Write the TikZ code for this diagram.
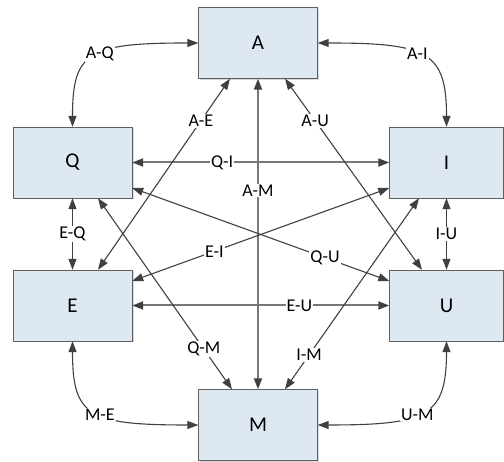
\documentclass[tikz,border=0pt]{standalone}
\usepackage{fontspec}
\setmainfont{Carlito}
\usetikzlibrary{arrows.meta,shadows}
\definecolor{boxfill}{RGB}{222,232,242}
\definecolor{boxline}{RGB}{95,95,95}
\definecolor{conn}{RGB}{64,64,64}
\definecolor{connlight}{RGB}{120,120,120}

\begin{document}
\begin{tikzpicture}[x=1pt,y=1pt,
    state/.style={draw=boxline,fill=boxfill,minimum width=119pt,minimum height=71pt,
      font=\fontsize{21}{24}\selectfont,
      drop shadow={shadow xshift=1.5pt,shadow yshift=-1.5pt,opacity=0.3}},
    link/.style={{Triangle[length=11pt,width=8pt,color=conn]}-{Triangle[length=11pt,width=8pt,color=conn]},
      draw=conn,line width=1.1pt},
    heavy/.style={link,draw=connlight,line width=2pt},
    lbl/.style={fill=white,inner sep=1pt,font=\fontsize{18}{20}\selectfont}]
    \useasboundingbox (0,0) rectangle (504,462);
    %Boxes
    \node [state] (A) at (258,419) {A};
    \node [state] (Q) at (72.5,299.5) {Q};
    \node [state,minimum width=114pt] (I) at (446.5,299.5) {I};
    \node [state] (E) at (72.5,156.5) {E};
    \node [state,minimum width=114pt] (U) at (446.5,156.5) {U};
    \node [state] (M) at (258,37) {M};

    %Outer curves
    \draw [link] (A.west) to[out=180,in=90,out distance=110pt,in distance=75pt]
      node[lbl,pos=0.45]{A-Q} (Q.north);
    \draw [link] (A.east) to[out=0,in=90,out distance=110pt,in distance=75pt]
      node[lbl,pos=0.45]{A-I} (I.north);
    \draw [link] (E.south) to[out=-90,in=180,out distance=75pt,in distance=110pt]
      node[lbl,pos=0.55]{M-E} (M.west);
    \draw [link] (U.south) to[out=-90,in=0,out distance=75pt,in distance=110pt]
      node[lbl,pos=0.55]{U-M} (M.east);

    %Straight ones
    \draw [link] (Q.south) -- node[lbl]{E-Q} (E.north);
    \draw [link] (I.south) -- node[lbl]{I-U} (U.north);
    \draw [heavy] (A.south) -- node[lbl,pos=0.36]{A-M} (M.north);
    \draw [heavy] (Q.east) -- node[lbl,pos=0.35]{Q-I} (I.west);
    \draw [heavy] (E.east) -- node[lbl,pos=0.65]{E-U} (U.west);

    %Diagonals
    \draw [link] ([xshift=-28pt]A.south) -- node[lbl,pos=0.22]{A-E} ([xshift=25.5pt]E.north);
    \draw [link] ([xshift=27pt]A.south) -- node[lbl,pos=0.22]{A-U} ([xshift=-24.5pt]U.north);
    \draw [link] ([yshift=-25.5pt]Q.east) -- node[lbl,pos=0.75]{Q-U} ([yshift=24.5pt]U.west);
    \draw [link] ([yshift=24.5pt]E.east) -- node[lbl,pos=0.32]{E-I} ([yshift=-25.5pt]I.west);
    \draw [link] ([xshift=25.5pt]Q.south) -- node[lbl,pos=0.79]{Q-M} ([xshift=-26pt]M.north);
    \draw [link] ([xshift=-27.5pt]I.south) -- node[lbl,pos=0.82]{I-M} ([xshift=27pt]M.north);
\end{tikzpicture}
\end{document}
